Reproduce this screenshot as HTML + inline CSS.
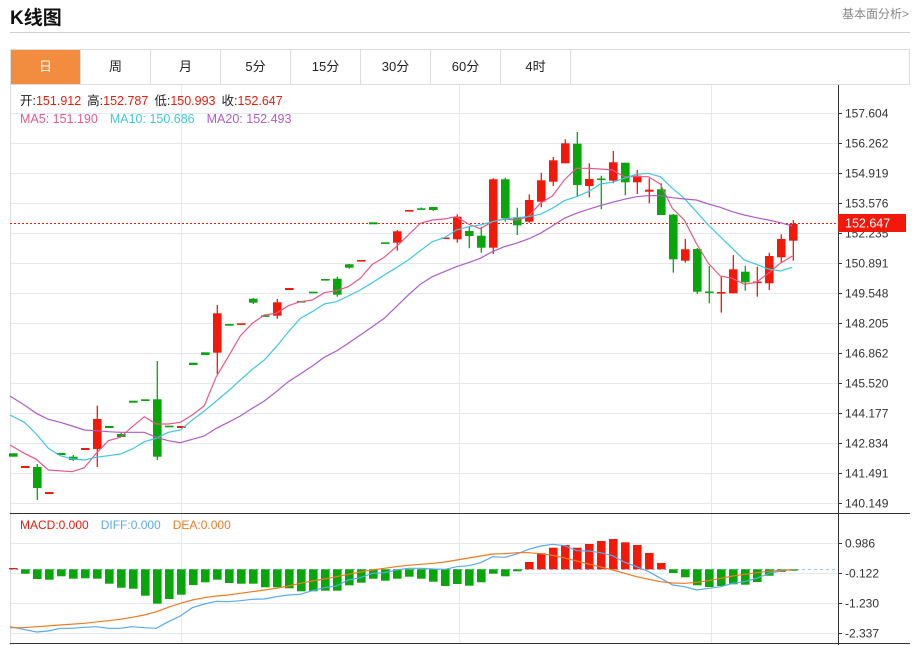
<!DOCTYPE html>
<html><head><meta charset="utf-8">
<style>
*{margin:0;padding:0;box-sizing:border-box}
body{width:912px;height:645px;background:#fff;font-family:"Liberation Sans","Noto Sans CJK SC",sans-serif;position:relative;overflow:hidden}
.title{position:absolute;left:10px;top:3px;font-size:19px;font-weight:bold;color:#111}
.more{position:absolute;right:3px;top:5px;font-size:12px;color:#888}
.hr{position:absolute;left:10px;top:32px;width:900px;height:1px;background:#d0d0d0}
.tabs{position:absolute;left:10px;top:49px;width:900px;height:36px;border:1px solid #ddd;display:flex}
.tab{width:70px;height:34px;line-height:34px;text-align:center;font-size:13px;color:#222;border-right:1px solid #ddd}
.tab.on{background:#f28c3e;color:#fff}
svg{position:absolute;left:0;top:0}
</style></head><body>
<div class="title">K线图</div>
<div class="more">基本面分析&gt;</div>
<div class="hr"></div>
<div class="tabs"><div class="tab on">日</div><div class="tab">周</div><div class="tab">月</div><div class="tab">5分</div><div class="tab">15分</div><div class="tab">30分</div><div class="tab">60分</div><div class="tab">4时</div></div>
<svg id="s" width="912" height="645" xmlns="http://www.w3.org/2000/svg" font-family="Liberation Sans, Noto Sans CJK SC, sans-serif"></svg>
<script>
var s=document.getElementById('s'),h='';
var R='#f2180a',G='#08a60a';
// frame
h+='<line x1="10.5" y1="85" x2="10.5" y2="645" stroke="#ddd"/>';
var hy=[113,143,173,203,233,263,293,323,353,383,413,443,473,503];
var lab=['157.604','156.262','154.919','153.576','152.235','150.891','149.548','148.205','146.862','145.520','144.177','142.834','141.491','140.149'];
hy.forEach(function(y,i){h+='<line x1="11" y1="'+(y+.5)+'" x2="838" y2="'+(y+.5)+'" stroke="#e3e9ef"/>';
h+='<line x1="838" y1="'+(y+.5)+'" x2="842" y2="'+(y+.5)+'" stroke="#333"/>';
h+='<text x="845" y="'+(y+4.5)+'" font-size="12" fill="#333">'+lab[i]+'</text>';});
[181,459,711].forEach(function(x){h+='<line x1="'+(x+.5)+'" y1="85" x2="'+(x+.5)+'" y2="642" stroke="#e3e9ef"/>';});
var my=[543,573,603,633],ml=['0.986','-0.122','-1.230','-2.337'];
my.forEach(function(y,i){h+='<line x1="11" y1="'+(y+.5)+'" x2="838" y2="'+(y+.5)+'" stroke="#e3e9ef"/>';
h+='<line x1="838" y1="'+(y+.5)+'" x2="842" y2="'+(y+.5)+'" stroke="#333"/>';
h+='<text x="845" y="'+(y+4.5)+'" font-size="12" fill="#333">'+ml[i]+'</text>';});
h+='<line x1="838.5" y1="85" x2="838.5" y2="645" stroke="#333"/>';
h+='<line x1="10" y1="513.5" x2="910" y2="513.5" stroke="#333"/>';
h+='<line x1="10" y1="643.5" x2="910" y2="643.5" stroke="#333"/>';
h+='<line x1="10" y1="223.5" x2="838" y2="223.5" stroke="#f2180a" stroke-dasharray="2,2"/>';
h+='<line x1="790" y1="569.5" x2="838" y2="569.5" stroke="#9cc8e8" stroke-dasharray="3,3"/>';
h+='<line x1="10" y1="569.5" x2="790" y2="569.5" stroke="#9cc8e8" stroke-dasharray="3,3"/>';
// candles
var C=[['g',453.3,456.7],['r',466,468],['g',467,488,464,500],['r',492,494],['g',453,455],['g',456.7,460,455,461],['r',448,450],['r',419,449,405.7,467],['g',426,428],['g',434,437,433,437],['g',400.7,402.7],['g',399.3,401],['g',399.3,456.7,361,460],['g',425.7,427.3],['r',426,428],['g',362.7,365],['g',352.3,355],['r',313.3,352.7,305,374],['g',324,325.7],['r',323.3,324.7],['g',298.7,302.7,298,304],['g',315.3,316.7],['r',302.3,315.7,299,318.7],['r',288,290],['g',301,302.5],['g',291.7,293.3],['g',279,280.3],['g',278.7,294.7,276.7,296.7],['g',264.3,267.7,264,268.7],['r',260,261.5],['g',222.3,224.3],['g',242.3,243.7],['r',231.3,242.7,230,250.7],['r',210,211.5],['g',208.3,209.3,207.5,209.5],['g',207,210,207,211],['r',237.5,239],['r',216.7,239.3,214.3,242.7],['g',231,236,226.7,248.3],['g',235.7,247.7,226.7,252.7],['r',179.3,247.7,178.3,254],['g',179.3,218.3,177.7,221.7],['g',217.3,225.3,207.7,235],['r',200,221.7,194.3,222.7],['r',180.3,201.7,172.7,207.3],['r',160.3,181.7,157,186],['r',143.3,163.3,139.3,163.3],['g',143.7,185,132,196.7],['r',179,186,163.3,197.3],['g',178.5,180,175.7,209.3],['r',162.3,180.7,151,183.3],['g',162.7,182.3,162.7,195.3],['r',175.7,182.3,170,194],['r',189.7,191.7,178.3,203.3],['g',189.3,215,183.3,215],['g',214.7,259.3,214,272.7],['r',249.3,260.7,239,262.7],['g',249,291.7,248,294],['g',291.5,293,266,303.3],['r',292,293.5,276.7,312.7],['r',269.3,293.3,255,293.3],['g',271.7,282.3,265.7,290.7],['r',281.5,283,266.7,296.7],['r',256,283.3,252.7,290],['r',239,257.3,234.3,262.7],['r',224,240.7,220,260.7]];
C.forEach(function(c,i){var cx=13.3+12*i,col=c[0]=='r'?R:G;
if(c.length>3)h+='<line x1="'+cx+'" y1="'+c[3]+'" x2="'+cx+'" y2="'+c[4]+'" stroke="'+col+'" stroke-width="1.3"/>';
h+='<rect x="'+(cx-4.3)+'" y="'+c[1]+'" width="8.6" height="'+Math.max(c[2]-c[1],1.6)+'" fill="'+col+'"/>';});
function pl(a,b,ox,oy,sc,col){var p=[];a.forEach(function(q){p.push((ox+q[0]/sc).toFixed(1)+','+(oy+q[1]/3).toFixed(1));});
b.forEach(function(q){p.push((420+q[0]/3).toFixed(1)+','+(oy+q[1]/3).toFixed(1));});
return '<polyline points="'+p.join(' ')+'" fill="none" stroke="'+col+'" stroke-width="1.2"/>';}
function pm(a,b,col){var p=[];a.forEach(function(q){p.push((q[0]/3).toFixed(1)+','+(120+q[1]/3).toFixed(1));});
b.forEach(function(q){p.push((430+q[0]/3).toFixed(1)+','+(120+q[1]/3).toFixed(1));});
return '<polyline points="'+p.join(' ')+'" fill="none" stroke="'+col+'" stroke-width="1.2"/>';}
h+=pm([[30,975],[73,1000],[109,1018],[145,1050],[217,1055],[253,1043],[289,1000],[325,962],[361,952],[397,920],[433,890],[469,912],[505,912],[541,907],[577,885],[613,857],[649,770],[685,710],[721,648],[757,610],[793,585],[829,580],[865,557],[901,545],[937,540],[973,518],[1009,512],[1045,500],[1081,475],[1117,433],[1153,412],[1189,380],[1225,345],[1261,310],[1297,300]],
[[43,297],[79,290],[115,312],[151,326],[187,305],[223,297],[259,300],[295,290],[331,250],[367,228],[403,180],[439,145],[475,145],[511,147],[547,150],[583,170],[619,170],[655,170],[691,192],[727,265],[763,300],[799,370],[835,430],[871,468],[907,475],[943,493],[979,487],[1015,460],[1051,430],[1087,408]],'#e8588a');
h+=pm([[30,885],[73,907],[109,942],[145,985],[181,1007],[217,1017],[253,1020],[289,1012],[325,1007],[361,1002],[397,987],[433,965],[469,955],[505,937],[541,930],[577,900],[613,873],[649,843],[685,813],[721,780],[757,748],[793,720],[829,680],[865,636],[901,595],[937,575],[973,552],[1009,545],[1045,528],[1081,510],[1117,488],[1153,465],[1189,443],[1225,420],[1261,392],[1297,365]],
[[43,353],[79,330],[115,320],[151,315],[187,305],[223,297],[259,293],[295,290],[331,283],[367,265],[403,242],[439,230],[475,215],[511,192],[547,187],[583,175],[619,163],[655,160],[691,170],[727,205],[763,235],[799,275],[835,315],[871,350],[907,385],[943,420],[979,433],[1015,447],[1051,453],[1087,442]],'#3ec8e0');
h+=pm([[30,828],[73,855],[109,880],[145,898],[181,907],[217,918],[253,930],[289,932],[325,935],[361,937],[397,937],[433,937],[469,952],[505,962],[541,968],[577,958],[613,948],[649,925],[685,907],[721,888],[757,865],[793,843],[829,815],[865,785],[901,762],[937,738],[973,712],[1009,693],[1045,670],[1081,645],[1117,620],[1153,595],[1189,560],[1225,525],[1261,493],[1297,470]],
[[43,455],[79,440],[115,428],[151,415],[187,395],[223,380],[259,370],[295,357],[331,340],[367,318],[403,295],[439,280],[475,268],[511,257],[547,247],[583,238],[619,230],[655,227],[691,227],[727,233],[763,237],[799,240],[835,252],[871,262],[907,275],[943,285],[979,293],[1015,300],[1051,308],[1087,318]],'#b05cc8');
// MACD bars
var B=[114,131,147,149,139,146,145,146,161,173,176,197,221,207,194,165,157,149,159,161,161,172,172,175,184,184,182,182,166,158,146,152,146,140,146,155,168,162,167,157,131,139,124,96,70,53,45,53,42,33,27,37,45,69,99,129,142,166,171,168,163,164,156,137,126,122];
B.forEach(function(b,i){var cx=13.3+12*i,y=530+b/3,z=569.3;var red=(i==0||(i>=43&&i<=54));
var t=Math.min(y,z),hh=Math.abs(y-z);h+='<rect x="'+(cx-4.3)+'" y="'+t.toFixed(1)+'" width="8.6" height="'+Math.max(hh,1.2).toFixed(1)+'" fill="'+(red?R:G)+'"/>';});
h+=pl([[30,290],[70,298],[110,306],[145,303],[181,295],[217,295],[253,292],[289,290],[325,295],[361,295],[397,290],[433,293],[469,295],[505,275],[541,258],[577,233],[613,222],[649,214],[685,215],[721,212],[757,208],[793,207],[829,200],[865,195],[901,193],[937,182],[973,173],[1009,168],[1045,150],[1081,143],[1117,130],[1153,128],[1189,120],[1225,115],[1260,115]],
[[40,117],[76,118],[110,110],[146,107],[182,98],[218,80],[254,82],[290,72],[326,58],[362,48],[398,43],[434,47],[470,62],[506,63],[542,68],[578,77],[614,97],[650,110],[686,125],[722,145],[758,165],[794,170],[830,180],[866,175],[902,170],[938,160],[974,155],[1010,145],[1046,130],[1082,123],[1118,118]],0,530,3,'#5aaaf0');
h+=pl([[30,293],[70,293],[110,290],[180,285],[253,280],[325,272],[361,268],[397,262],[433,255],[469,245],[505,232],[541,220],[577,210],[613,203],[649,198],[685,195],[721,190],[757,185],[793,180],[829,175],[865,168],[901,160],[937,153],[973,147],[1009,140],[1045,133],[1081,126],[1117,120],[1153,115],[1189,110],[1225,106],[1260,103]],
[[40,100],[76,96],[110,90],[146,84],[182,78],[218,72],[254,71],[290,68],[326,68],[362,71],[398,76],[434,84],[470,93],[506,102],[542,111],[578,120],[614,130],[650,140],[686,148],[722,155],[758,159],[794,160],[830,157],[866,152],[902,145],[938,138],[974,133],[1010,128],[1046,124],[1082,121],[1118,119]],0,530,3,'#f07a20');
// price tag
h+='<rect x="838" y="214" width="68" height="18" fill="#f2180a"/><text x="845" y="227.5" font-size="12.5" fill="#fff">152.647</text>';
// legends
h+='<text x="20" y="105" font-size="12.5"><tspan fill="#222">开:</tspan><tspan fill="#f2180a">151.912</tspan><tspan fill="#222" dx="6">高:</tspan><tspan fill="#f2180a">152.787</tspan><tspan fill="#222" dx="6">低:</tspan><tspan fill="#f2180a">150.993</tspan><tspan fill="#222" dx="6">收:</tspan><tspan fill="#f2180a">152.647</tspan></text>';
h+='<text x="20" y="123" font-size="12.5"><tspan fill="#e8588a">MA5: 151.190</tspan><tspan fill="#3ec8e0" dx="12">MA10: 150.686</tspan><tspan fill="#b05cc8" dx="12">MA20: 152.493</tspan></text>';
h+='<text x="20" y="529" font-size="12"><tspan fill="#f2180a">MACD:0.000</tspan><tspan fill="#5aaaf0" dx="12">DIFF:0.000</tspan><tspan fill="#f07a20" dx="12">DEA:0.000</tspan></text>';
s.innerHTML=h;
</script>
</body></html>
